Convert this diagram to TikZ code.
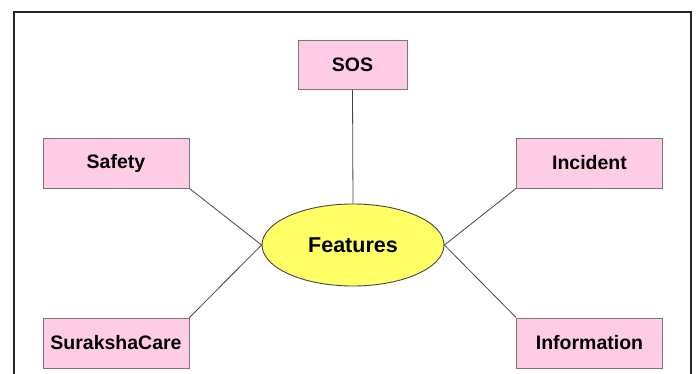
\documentclass[tikz,border=0pt]{standalone}
\usepackage{fontspec}
\setmainfont{Liberation Sans}
\usetikzlibrary{shapes.geometric}
\definecolor{boxpink}{RGB}{255,204,230}
\definecolor{boxedge}{RGB}{120,120,120}
\definecolor{elyellow}{RGB}{255,255,102}
\definecolor{linegray}{RGB}{70,70,70}
\tikzset{
  feat/.style={draw=boxedge, fill=boxpink, line width=0.9pt, minimum width=146pt, minimum height=50pt, inner sep=0pt, font=\fontsize{19.5}{22}\selectfont\bfseries},
  hub/.style={ellipse, draw=linegray, fill=elyellow, line width=0.9pt, minimum width=182pt, minimum height=82pt, inner sep=0pt, font=\fontsize{21.5}{24}\selectfont\bfseries},
  conn/.style={draw=linegray, line width=0.8pt}
}
\begin{document}
\begin{tikzpicture}[x=1pt,y=-1pt]
\useasboundingbox (0,0) rectangle (697,374);
\clip (0,0) rectangle (697,374);
\fill[white] (0,0) rectangle (697,374);
\draw[line width=1.8pt, black!85] (14,400) -- (14,12) -- (691,12) -- (691,400);
\node[hub] (f) at (353,245) {Features};
\node[feat, minimum width=109pt, minimum height=49pt] (sos) at (352.5,65) {SOS};
\node[feat] (safety) at (116,163) {Safety};
\node[feat] (incident) at (589.5,163) {Incident};
\node[feat] (sk) at (116,343) {SurakshaCare};
\node[feat] (info) at (589.5,343) {Information};
\draw[conn] (sos.south) -- (f.north);
\draw[conn] (safety.south east) -- (f.west);
\draw[conn] (sk.north east) -- (f.west);
\draw[conn] (incident.south west) -- (f.east);
\draw[conn] (info.north west) -- (f.east);
\end{tikzpicture}
\end{document}
